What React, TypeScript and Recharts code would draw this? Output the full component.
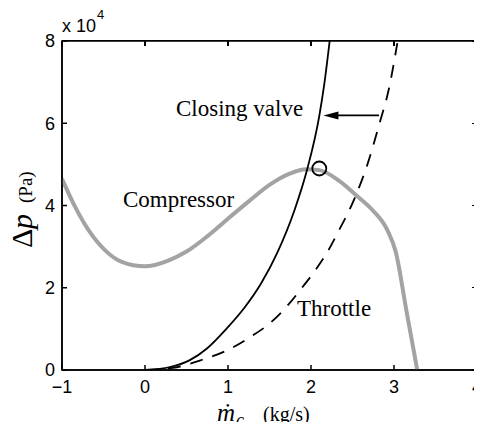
import { Line, LineChart, ReferenceArea, ReferenceDot, ReferenceLine, XAxis, YAxis } from 'recharts';

// compressor characteristic (gray)
const compX = [-1, -0.84, -0.68, -0.48, -0.28, 0, 0.28, 0.5, 0.75, 1, 1.25, 1.5, 1.75, 1.94, 2.1, 2.34, 2.55, 2.74, 2.92, 3.02, 3.15, 3.28];
const compY = [4.65, 3.96, 3.4, 2.91, 2.63, 2.52, 2.66, 2.88, 3.25, 3.68, 4.1, 4.5, 4.78, 4.88, 4.86, 4.6, 4.24, 3.89, 3.4, 2.88, 1.44, 0];

// closing valve (solid)
const valveX = [0, 0.3, 0.54, 0.75, 0.98, 1.2, 1.4, 1.6, 1.8, 1.95, 2.1, 2.16, 2.225];
const valveY = [0, 0.07, 0.24, 0.53, 1.0, 1.52, 2.11, 2.88, 3.88, 4.85, 6.18, 6.95, 8.0];

// throttle (dashed)
const thrX = [0, 0.34, 0.66, 0.98, 1.26, 1.54, 1.74, 1.86, 2.06, 2.22, 2.32, 2.52, 2.68, 2.82, 2.94, 3.04];
const thrY = [0, 0.05, 0.23, 0.47, 0.79, 1.2, 1.62, 1.92, 2.45, 2.95, 3.33, 4.15, 5.0, 5.96, 6.85, 7.95];

const xTicks = [-1, 0, 1, 2, 3, 4];
const yTicks = [0, 2, 4, 6, 8];
const xMin = -1;
const xMax = 4;
const yMin = 0;
const yMax = 8;

// operating point and arrow (closing valve shifts throttle line left)
const opPoint = { x: 2.1, y: 4.9 };
const arrowY = 6.19;
const arrowFrom = 2.82;
const arrowTo = 2.15;

// layout
const W = 482;
const H = 430;
const margin = { top: 41, right: 5, bottom: 0, left: 0 };
const yAxisW = 62;
const xAxisH = 60;
const plot = {
  left: margin.left + yAxisW,
  right: W - margin.right,
  top: margin.top,
  bottom: H - margin.bottom - xAxisH,
};

const zip = (xs: number[], ys: number[]) => xs.map((x, i) => ({ x, y: ys[i] }));

const sans = '"Liberation Sans", Arial, Helvetica, sans-serif';
const serif = '"Liberation Serif", "Times New Roman", serif';
const tickStyle = { fontSize: 18, fill: '#000', fontFamily: sans };
const minus = (v: number) => String(v).replace('-', '\u2212');

function Arrow(props: any) {
  const { x1, y1, x2, y2 } = props;
  const tipX = Math.min(x1, x2);
  const tailX = Math.max(x1, x2);
  return (
    <g>
      <line x1={tailX} y1={y1} x2={tipX + 12} y2={y2} stroke="#000" strokeWidth={1.8} />
      <polygon points={`${tipX},${y1} ${tipX + 15},${y1 - 4} ${tipX + 15},${y1 + 4}`} fill="#000" />
    </g>
  );
}

// inward ticks on the top and right edges
function EdgeTicks() {
  const px = (v: number) => plot.left + ((v - xMin) / (xMax - xMin)) * (plot.right - plot.left);
  const py = (v: number) => plot.bottom - ((v - yMin) / (yMax - yMin)) * (plot.bottom - plot.top);
  return (
    <>
      {xTicks.map((t) => (
        <div
          key={'tx' + t}
          style={{ position: 'absolute', left: px(t) - 0.6, top: plot.top, width: 1.2, height: 5, background: '#000' }}
        />
      ))}
      {yTicks.map((t) => (
        <div
          key={'ry' + t}
          style={{ position: 'absolute', left: plot.right - 5, top: py(t) - 0.6, width: 5, height: 1.2, background: '#000' }}
        />
      ))}
    </>
  );
}

export default function App() {
  return (
    <div style={{ position: 'relative', margin: -8, width: W, height: H, background: '#fff' }}>
      <LineChart width={W} height={H} margin={margin}>
        <XAxis
          type="number"
          dataKey="x"
          domain={[xMin, xMax]}
          ticks={xTicks}
          tickFormatter={minus}
          allowDataOverflow
          height={xAxisH}
          tickSize={-5}
          tickMargin={15}
          stroke="#000"
          strokeWidth={1.5}
          tick={tickStyle}
        />
        <YAxis
          type="number"
          dataKey="y"
          domain={[yMin, yMax]}
          ticks={yTicks}
          allowDataOverflow
          width={yAxisW}
          tickSize={-5}
          tickMargin={12}
          stroke="#000"
          strokeWidth={1.5}
          tick={tickStyle}
        />
        <ReferenceArea
          x1={xMin}
          x2={xMax}
          y1={yMin}
          y2={yMax}
          ifOverflow="visible"
          fill="none"
          fillOpacity={0}
          stroke="#000"
          strokeWidth={1.5}
        />
        <Line
          data={zip(compX, compY)}
          dataKey="y"
          type="monotone"
          stroke="#a3a3a3"
          strokeWidth={4}
          dot={false}
          isAnimationActive={false}
        />
        <Line
          data={zip(thrX, thrY)}
          dataKey="y"
          type="monotone"
          stroke="#000"
          strokeWidth={1.8}
          strokeDasharray="13 10"
          dot={false}
          isAnimationActive={false}
        />
        <Line
          data={zip(valveX, valveY)}
          dataKey="y"
          type="monotone"
          stroke="#000"
          strokeWidth={1.8}
          dot={false}
          isAnimationActive={false}
        />
        <ReferenceDot x={opPoint.x} y={opPoint.y} r={7} fill="none" stroke="#000" strokeWidth={1.8} />
        <ReferenceLine
          segment={[
            { x: arrowFrom, y: arrowY },
            { x: arrowTo, y: arrowY },
          ]}
          shape={Arrow}
        />
        <text x={62} y={32} fontFamily={sans} fontSize={18}>
          x 10
        </text>
        <text x={97} y={19} fontFamily={sans} fontSize={13}>
          4
        </text>
        <text x={176} y={116} fontFamily={serif} fontSize={23}>
          Closing valve
        </text>
        <text x={123} y={207} fontFamily={serif} fontSize={23}>
          Compressor
        </text>
        <text x={297} y={316} fontFamily={serif} fontSize={23}>
          Throttle
        </text>
        <text y={421} fontFamily={serif}>
          <tspan x={217} fontSize={25} fontStyle="italic">
            ṁ
          </tspan>
          <tspan x={236} dy={5} fontSize={18} fontStyle="italic">
            c
          </tspan>
          <tspan x={263} dy={-5} fontSize={20}>
            (kg/s)
          </tspan>
        </text>
        <text transform="translate(32,248) rotate(-90)" fontFamily={serif}>
          <tspan x={0} fontSize={30}>
            Δ
          </tspan>
          <tspan x={19} fontSize={30} fontStyle="italic">
            p
          </tspan>
          <tspan x={45} fontSize={19}>
            (Pa)
          </tspan>
        </text>
      </LineChart>
      <div
        style={{
          position: 'absolute',
          left: plot.left,
          top: plot.top - 1,
          width: plot.right - plot.left,
          height: plot.bottom - plot.top + 1,
          borderTop: '1.5px solid #000',
          borderRight: '1.5px solid #000',
          boxSizing: 'border-box',
          pointerEvents: 'none',
        }}
      />
      <EdgeTicks />
    </div>
  );
}
